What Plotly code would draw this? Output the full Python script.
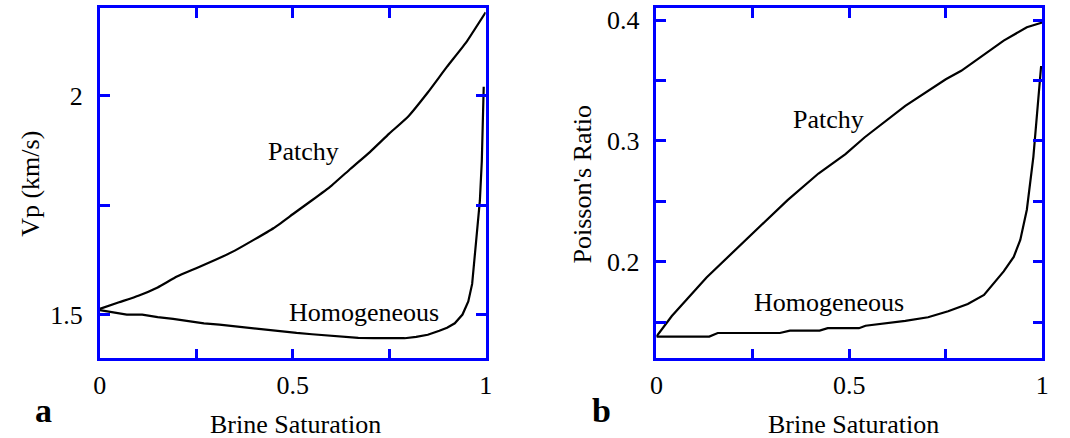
import plotly.graph_objects as go

# ---- data ----
sat_patchy_a = [0, 0.05, 0.1, 0.15, 0.2, 0.25, 0.3, 0.35, 0.4, 0.45, 0.5, 0.55, 0.6,
                0.65, 0.7, 0.75, 0.8, 0.85, 0.9, 0.95, 1.0]
vp_patchy = [1.513, 1.528, 1.543, 1.562, 1.587, 1.606, 1.625, 1.646, 1.671, 1.697, 1.729,
             1.761, 1.794, 1.833, 1.871, 1.913, 1.953, 2.007, 2.066, 2.122, 2.19]

sat_homog_a = [0, 0.03, 0.07, 0.11, 0.15, 0.19, 0.23, 0.27, 0.31, 0.35, 0.39, 0.43, 0.47,
               0.51, 0.55, 0.59, 0.63, 0.67, 0.71, 0.75, 0.79, 0.82, 0.85, 0.88, 0.9, 0.92,
               0.94, 0.955, 0.965, 0.975, 0.985, 0.99, 0.995]
vp_homog = [1.51, 1.505, 1.50, 1.50, 1.494, 1.49, 1.485, 1.48, 1.477, 1.473, 1.469, 1.465,
            1.461, 1.458, 1.455, 1.452, 1.449, 1.447, 1.446, 1.446, 1.446, 1.449, 1.454,
            1.463, 1.47, 1.48, 1.5, 1.53, 1.57, 1.665, 1.76, 1.85, 2.02]

sat_patchy_b = [0, 0.04, 0.13, 0.235, 0.34, 0.42, 0.49, 0.54, 0.645, 0.75, 0.79, 0.9, 0.96, 1.0]
pr_patchy = [0.138, 0.155, 0.187, 0.219, 0.251, 0.273, 0.289, 0.303, 0.329, 0.351, 0.358,
             0.383, 0.394, 0.398]

sat_homog_b = [0, 0.137, 0.159, 0.32, 0.346, 0.423, 0.444, 0.525, 0.542, 0.593, 0.645, 0.704,
               0.756, 0.807, 0.849, 0.9, 0.926, 0.943, 0.96, 0.977, 0.986, 0.997]
pr_homog = [0.138, 0.138, 0.141, 0.141, 0.143, 0.143, 0.145, 0.145, 0.147, 0.149, 0.151,
            0.154, 0.159, 0.165, 0.1725, 0.192, 0.204, 0.218, 0.243, 0.287, 0.32, 0.362]

W, H = 1070, 438
def px(x):
    return x / W
def py(y):
    return 1 - y / H

FONT = "Liberation Serif, Times New Roman, serif"
BLUE = "#0000ff"
FS = 26

fig = go.Figure()
smooth = dict(color="black", width=2.2, shape="spline", smoothing=0.4)
plain = dict(color="black", width=2.2)
fig.add_trace(go.Scatter(x=sat_patchy_a, y=vp_patchy, mode="lines", line=smooth, xaxis="x", yaxis="y"))
fig.add_trace(go.Scatter(x=sat_homog_a, y=vp_homog, mode="lines", line=plain, xaxis="x", yaxis="y"))
fig.add_trace(go.Scatter(x=sat_patchy_b, y=pr_patchy, mode="lines", line=plain, xaxis="x2", yaxis="y2"))
fig.add_trace(go.Scatter(x=sat_homog_b, y=pr_homog, mode="lines", line=plain, xaxis="x2", yaxis="y2"))

def axis_common(dtick, minor_dtick, rng, domain, anchor, fmt=None):
    d = dict(range=rng, domain=domain, anchor=anchor, showgrid=False, zeroline=False,
             showline=True, linecolor=BLUE, linewidth=2.5, mirror="ticks",
             ticks="inside", ticklen=10, tickwidth=2.5, tickcolor=BLUE,
             tick0=0, dtick=dtick,
             minor=dict(dtick=minor_dtick, tick0=0, ticks="inside", ticklen=10,
                        tickwidth=2.5, tickcolor=BLUE, showgrid=False),
             tickfont=dict(family=FONT, size=FS, color="black"))
    if fmt:
        d["tickformat"] = fmt
    return d

ydom = [py(358), py(6)]
xa = axis_common(0.5, 0.25, [0, 1], [px(94), px(485)], "y")
xa["ticklabelstandoff"] = 2
xb = axis_common(0.5, 0.25, [0, 1], [px(658), px(1049)], "y2")
xb["ticklabelstandoff"] = 2
ya = axis_common(0.5, 0.25, [1.4, 2.2], ydom, "x")
ya["ticklabelstandoff"] = 9
yb = axis_common(0.1, 0.05, [0.12, 0.41], ydom, "x2", ".1f")
yb["ticklabelstandoff"] = 9

fig.update_layout(
    width=W, height=H, margin=dict(l=0, r=0, t=0, b=0),
    paper_bgcolor="white", plot_bgcolor="white", showlegend=False,
    font=dict(family=FONT, size=FS, color="black"),
    xaxis=xa, yaxis=ya, xaxis2=xb, yaxis2=yb,
)

def ann(text, x, y, size=FS, bold=False, angle=0):
    fig.add_annotation(text=f"<b>{text}</b>" if bold else text, x=px(x), y=py(y),
                       xref="paper", yref="paper", showarrow=False, textangle=angle,
                       xanchor="center", yanchor="middle",
                       font=dict(family=FONT, size=size, color="black"))

# in-plot labels
ann("Patchy", 300, 150)
ann("Homogeneous", 362, 312)
ann("Patchy", 832, 118)
ann("Homogeneous", 833, 302)
# axis titles
ann("Brine Saturation", 292, 424)
ann("Brine Saturation", 858, 424)
ann("Vp (km/s)", 23, 183, angle=-90)
ann("Poisson's Ratio", 583, 183, angle=-90)
# panel letters
ann("a", 37, 410, size=34, bold=True)
ann("b", 602, 410, size=34, bold=True)

fig.write_html("out.html")
